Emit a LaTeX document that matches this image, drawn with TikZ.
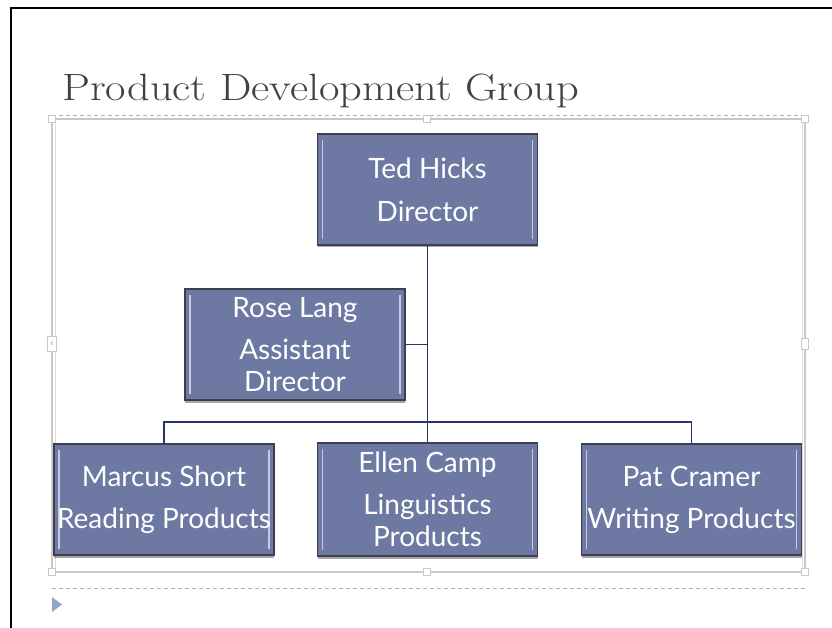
\documentclass[tikz,border=0pt]{standalone}
\usepackage{fontspec}
\newfontfamily\boxfont{Lato}
\usetikzlibrary{shadows,calc}
\definecolor{boxfill}{HTML}{6D79A2}
\definecolor{boxline}{HTML}{3B3F4E}
\definecolor{boxhi}{HTML}{C3CBE6}
\definecolor{connc}{HTML}{2C336A}
\definecolor{titlec}{HTML}{404048}
\definecolor{dashc}{HTML}{9DB9DA}
\definecolor{selc}{HTML}{C8C8C8}
\definecolor{tric}{HTML}{8FA7C9}
\tikzset{
  orgbox/.style={rectangle, fill=boxfill, draw=boxline, line width=1.1pt,
    minimum width=220pt, minimum height=111pt, inner sep=0pt,
    text=white, align=center,
    font=\boxfont\fontsize{28}{32}\selectfont,
    drop shadow={shadow xshift=0pt, shadow yshift=-2.5pt, opacity=0.35, fill=black},
    path picture={
      \draw[boxhi, line width=1.8pt]
        ($(path picture bounding box.north west)+(5,6)$) --
        ($(path picture bounding box.south west)+(5,-6)$);
      \draw[boxhi, line width=1.8pt]
        ($(path picture bounding box.north east)+(-5,6)$) --
        ($(path picture bounding box.south east)+(-5,-6)$);
    }},
  conn/.style={draw=connc, line width=1.3pt},
  dashline/.style={draw=dashc, line width=1pt, dash pattern=on 4pt off 3pt},
  handle/.style={rectangle, draw=selc, fill=white, line width=0.8pt, inner sep=0pt,
    minimum width=7pt, minimum height=7pt},
}
\begin{document}
\begin{tikzpicture}[x=1pt,y=-1pt]
\useasboundingbox (0,0) rectangle (832,628);
\fill[white] (0,0) rectangle (832,628);
% outer slide frame
\draw[black, line width=1.2pt] (11,628) -- (11,8) -- (832,8);
% title
\node[anchor=base west, inner sep=0pt, text=titlec] (title) at (62,101)
  {\scalebox{1.17}[1]{\fontsize{38}{42}\selectfont Product Development Group}};
% dashed placeholder lines
\draw[dashline] (52,116) -- (805,116);
\draw[dashline] (52,588) -- (805,588);
% selection frame
\draw[selc, line width=1.2pt] (52,119) rectangle (805,572);
\draw[selc!60, line width=0.6pt] (55,122) -- (55,569);
\draw[selc!60, line width=0.6pt] (802,122) -- (802,569);
\node[handle] (h1) at (52,119) {};
\node[handle] (h2) at (427,119) {};
\node[handle] (h3) at (805,119) {};
\node[handle] (h4) at (52,572) {};
\node[handle] (h5) at (427,572) {};
\node[handle] (h6) at (805,572) {};
\node[handle, minimum width=9pt, minimum height=15pt, text=gray, font=\boxfont\fontsize{10}{10}\selectfont] (h7) at (52,344) {‹};
\node[handle, minimum width=7pt, minimum height=11pt] (h8) at (805,344) {};
% bullet triangle
\fill[tric] (52,597) -- (62,604.5) -- (52,612) -- cycle;
% boxes
\node[orgbox] (ted) at (427.5,189.5) {Ted Hicks\\[11pt]Director};
\node[orgbox] (rose) at (295,344.5) {Rose Lang\\[10pt]Assistant\\Director};
\node[orgbox] (marcus) at (164,499.5) {Marcus Short\\[10pt]Reading Products};
\node[orgbox, minimum height=113pt] (ellen) at (427.5,499.5) {Ellen Camp\\[10pt]Linguistics\\Products};
\node[orgbox] (pat) at (691.5,499.5) {Pat Cramer\\[10pt]Writing Products};
% connectors
\coordinate (bus) at (427.5,422);
\draw[conn] (ted.south) -- (ellen.north);
\draw[conn] (rose.east) -- (rose.east -| ted.south);
\draw[conn] (marcus.north) |- (bus) -| (pat.north);
\end{tikzpicture}
\end{document}
